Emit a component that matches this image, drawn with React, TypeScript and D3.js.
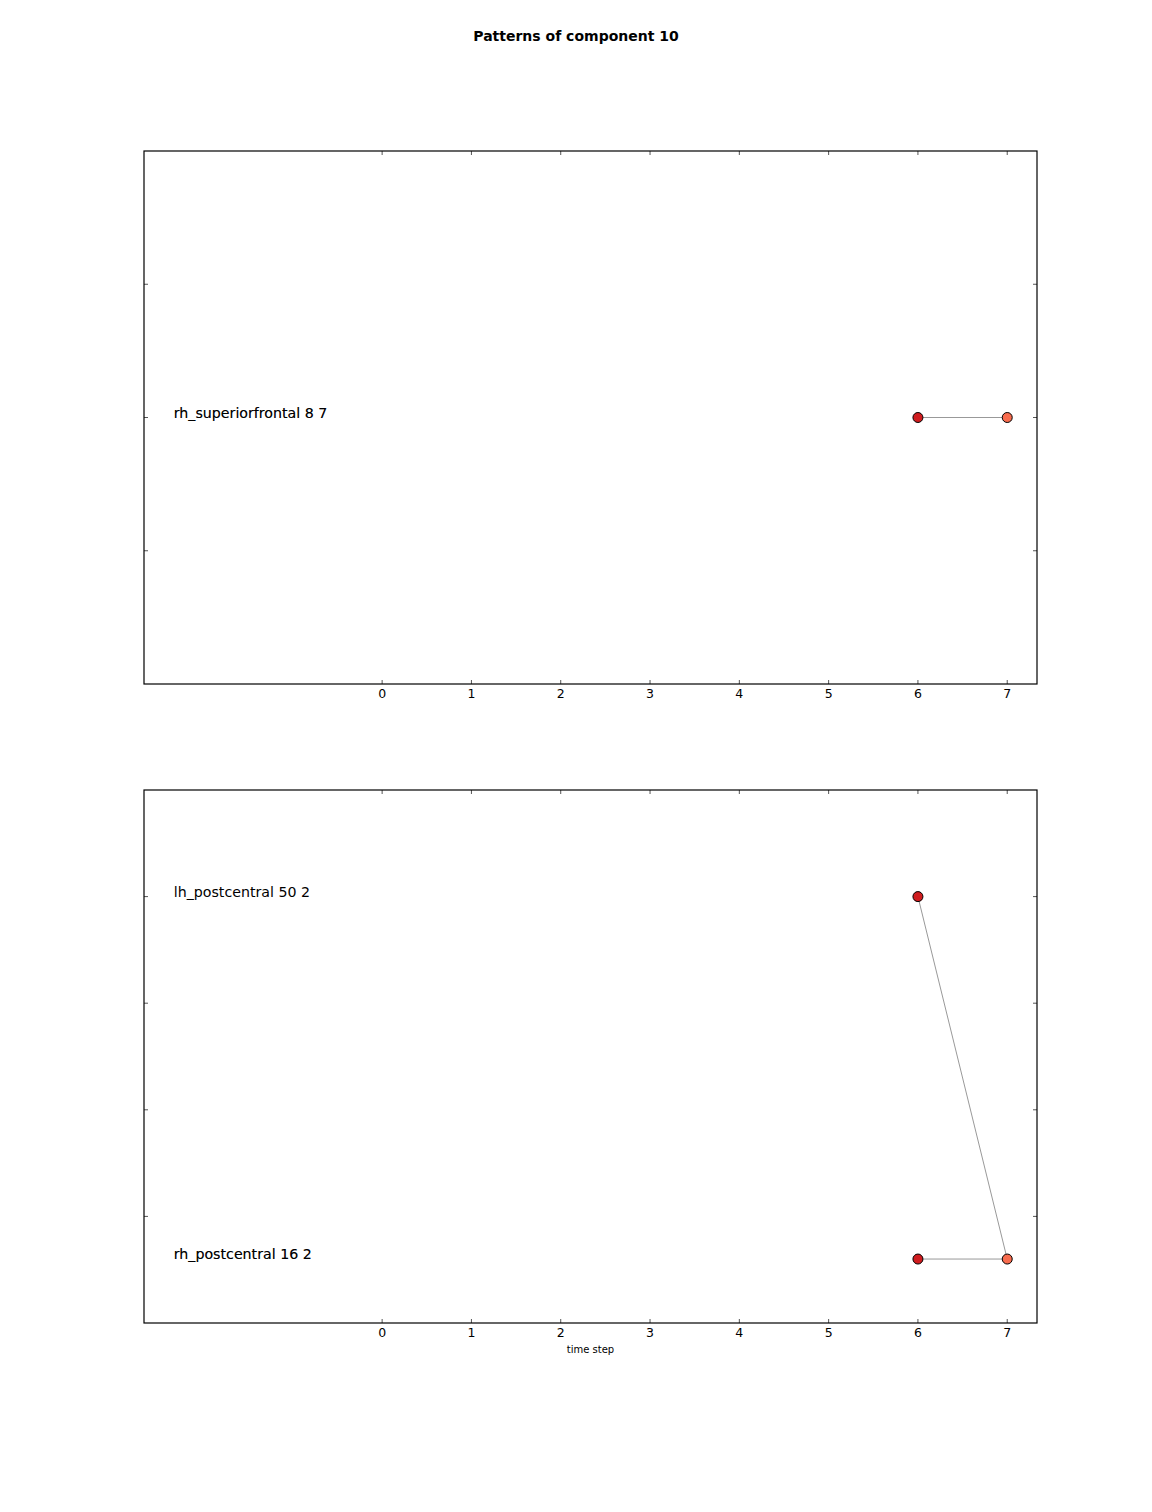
import React from "react";
import * as d3 from "d3";

const W = 1152;
const H = 1512;

const title = "Patterns of component 10";
const xLabel = "time step";
const xTicks = [0, 1, 2, 3, 4, 5, 6, 7];
const xDomain = [-8 / 3, 22 / 3];
const labelX = -7 / 3;
const pointColors = ["#d01c1f", "#f86c4e"];

// panel 1
const p1YDomain = [-2, 2];
const p1YTicks = [-1, 0, 1];
const p1PointT = [6, 7];
const p1PointY = [0, 0];
const p1PointC = [0, 1];
const p1Edges = [[6, 0, 7, 0]];
const p1Labels = ["rh_superiorfrontal 8 7", "rh_superiorfrontal 8 7"];
const p1LabelY = [0, 0];

// panel 2
const p2YDomain = [-0.5, 2];
const p2YTicks = [0, 0.5, 1, 1.5];
const p2PointT = [6, 6, 7];
const p2PointY = [1.5, -0.2, -0.2];
const p2PointC = [0, 0, 1];
const p2Edges = [
  [6, 1.5, 7, -0.2],
  [6, -0.2, 7, -0.2],
];
const p2Labels = ["lh_postcentral 50 2", "rh_postcentral 16 2", "rh_postcentral 16 2"];
const p2LabelY = [1.5, -0.2, -0.2];

const FONT = "DejaVu Sans, sans-serif";

function Panel({ top, bottom, yDomain, yTicks, pointT, pointY, pointC, edges, labels, labelY, showXLabel }) {
  const left = 144;
  const right = 1037;
  const x = d3.scaleLinear().domain(xDomain).range([left, right]);
  const y = d3.scaleLinear().domain(yDomain).range([bottom, top]);
  const tl = 4;
  return (
    <g>
      {edges.map((e, i) => (
        <line key={"e" + i} x1={x(e[0])} y1={y(e[1])} x2={x(e[2])} y2={y(e[3])} stroke="#999" strokeWidth={1} />
      ))}
      {pointT.map((t, i) => (
        <circle key={"p" + i} cx={x(t)} cy={y(pointY[i])} r={5} fill={pointColors[pointC[i]]} stroke="#000" strokeWidth={1} />
      ))}
      {labels.map((l, i) => (
        <text key={"l" + i} x={x(labelX)} y={y(labelY[i])} fontFamily={FONT} fontSize={14.2} fill="#000" opacity={i > 0 && labelY[i] === labelY[i - 1] ? 0.4 : 1}>
          {l}
        </text>
      ))}
      {xTicks.map((t) => (
        <g key={"xt" + t}>
          <line x1={x(t)} x2={x(t)} y1={bottom} y2={bottom - tl} stroke="#555" />
          <line x1={x(t)} x2={x(t)} y1={top} y2={top + tl} stroke="#555" />
          <text x={x(t)} y={bottom + 14} textAnchor="middle" fontFamily={FONT} fontSize={12.5} fill="#000">
            {t}
          </text>
        </g>
      ))}
      {yTicks.map((t) => (
        <g key={"yt" + t}>
          <line x1={left} x2={left + tl} y1={y(t)} y2={y(t)} stroke="#555" />
          <line x1={right} x2={right - tl} y1={y(t)} y2={y(t)} stroke="#555" />
        </g>
      ))}
      <rect x={left} y={top} width={right - left} height={bottom - top} fill="none" stroke="#000" strokeWidth={1.2} />
      {showXLabel && (
        <text x={(left + right) / 2} y={bottom + 30} textAnchor="middle" fontFamily={FONT} fontSize={10} fill="#000">
          {xLabel}
        </text>
      )}
    </g>
  );
}

export default function App() {
  return (
    <svg width={W} height={H} style={{ position: "absolute", left: 0, top: 0, background: "#fff" }}>
      <rect width={W} height={H} fill="#fff" />
      <text x={W / 2} y={41} textAnchor="middle" fontFamily={FONT} fontWeight="bold" fontSize={14} fill="#000">
        {title}
      </text>
      <Panel
        top={151}
        bottom={684}
        yDomain={p1YDomain}
        yTicks={p1YTicks}
        pointT={p1PointT}
        pointY={p1PointY}
        pointC={p1PointC}
        edges={p1Edges}
        labels={p1Labels}
        labelY={p1LabelY}
        showXLabel={false}
      />
      <Panel
        top={790}
        bottom={1323}
        yDomain={p2YDomain}
        yTicks={p2YTicks}
        pointT={p2PointT}
        pointY={p2PointY}
        pointC={p2PointC}
        edges={p2Edges}
        labels={p2Labels}
        labelY={p2LabelY}
        showXLabel={true}
      />
    </svg>
  );
}
